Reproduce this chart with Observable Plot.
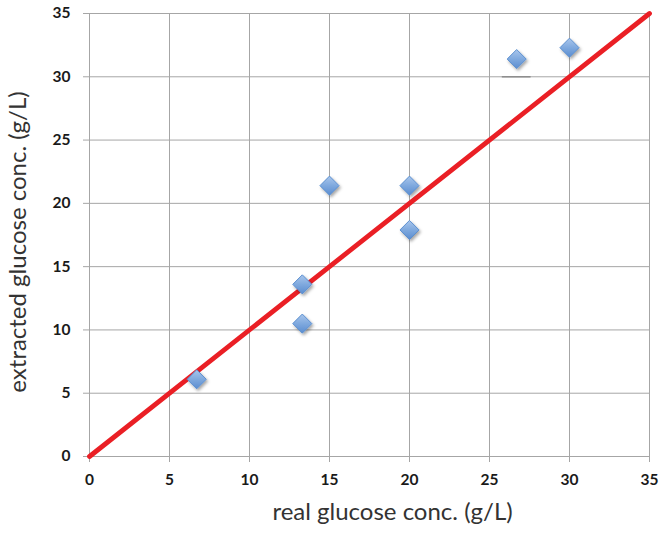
<!DOCTYPE html>
<html>
<head>
<meta charset="utf-8">
<script src="https://cdn.jsdelivr.net/npm/d3@7"></script>
<script src="https://cdn.jsdelivr.net/npm/@observablehq/plot@0.6"></script>
<style>
  html, body { margin: 0; padding: 0; background: #fff; }
  #chart svg { display: block; }
</style>
</head>
<body>
<div id="chart"></div>
<script>
// Data
const realConc = [6.7, 13.3, 13.3, 15, 20, 20, 26.7, 30];
const extractedConc = [6.1, 13.6, 10.5, 21.4, 21.4, 17.9, 31.4, 32.3];
const fitX = [0, 35];
const fitY = [0, 35];
const ticks = [0, 5, 10, 15, 20, 25, 30, 35];
const stray = [{x1: 25.8, x2: 27.6, y: 30}];
const xLabel = "real glucose conc. (g/L)";
const yLabel = "extracted glucose conc. (g/L)";

const points = realConc.map((x, i) => ({x, y: extractedConc[i]}));
const fit = fitX.map((x, i) => ({x, y: fitY[i]}));

const grid = "#a6a6a6";
const tickFont = {fontSize: 15.5, fontWeight: "bold", fill: "#1a1a1a"};

const chart = Plot.plot({
  width: 659,
  height: 536,
  marginLeft: 89,
  marginRight: 10,
  marginTop: 13,
  marginBottom: 80,
  style: {fontFamily: "Lato, 'Open Sans', sans-serif", background: "#fff"},
  x: {domain: [0, 35], ticks},
  y: {domain: [0, 35], ticks},
  marks: [
    Plot.gridX(ticks, {stroke: grid, strokeOpacity: 1, strokeWidth: 1}),
    Plot.gridY(ticks, {stroke: grid, strokeOpacity: 1, strokeWidth: 1}),
    Plot.axisX({ticks, label: null, tickSize: 6, tickPadding: 11, stroke: grid, ...tickFont}),
    Plot.axisY({ticks, label: null, tickSize: 6, tickPadding: 13, stroke: grid, ...tickFont}),
    Plot.ruleX([0], {stroke: grid}),
    Plot.ruleY([0], {stroke: grid}),
    Plot.ruleY(stray, {x1: "x1", x2: "x2", y: "y", stroke: "#8c8c8c", strokeWidth: 1.5}),
    Plot.line(fit, {x: "x", y: "y", stroke: "#ea1f25", strokeWidth: 4.8}),
    Plot.dot(points, {x: "x", y: "y", symbol: "diamond2", r: 8.6, fill: "url(#dgrad)", stroke: "#5b8fd0", strokeWidth: 1, className: "diamonds"}),
    Plot.text([xLabel], {frameAnchor: "bottom", dx: 23, dy: 63, text: d => d, fontSize: 24, fill: "#333", fontFamily: "Lato, sans-serif"}),
    Plot.text([yLabel], {frameAnchor: "left", textAnchor: "middle", dx: -71, dy: 7, rotate: -90, text: d => d, fontSize: 24, fill: "#333", fontFamily: "Lato, sans-serif"})
  ]
});

// gradient + shadow defs for the diamond markers
const ns = "http://www.w3.org/2000/svg";
const defs = document.createElementNS(ns, "defs");
defs.innerHTML = `
  <linearGradient id="dgrad" x1="0" y1="0" x2="0" y2="1">
    <stop offset="0" stop-color="#a9c6ec"/>
    <stop offset="0.5" stop-color="#7fa9de"/>
    <stop offset="1" stop-color="#5b8dd0"/>
  </linearGradient>
  <filter id="dshadow" x="-50%" y="-50%" width="200%" height="200%">
    <feDropShadow dx="1.5" dy="2" stdDeviation="1.5" flood-color="#000" flood-opacity="0.35"/>
  </filter>`;
chart.insertBefore(defs, chart.firstChild);
chart.querySelectorAll(".diamonds path").forEach(p => p.setAttribute("filter", "url(#dshadow)"));
document.getElementById("chart").appendChild(chart);
</script>
</body>
</html>
